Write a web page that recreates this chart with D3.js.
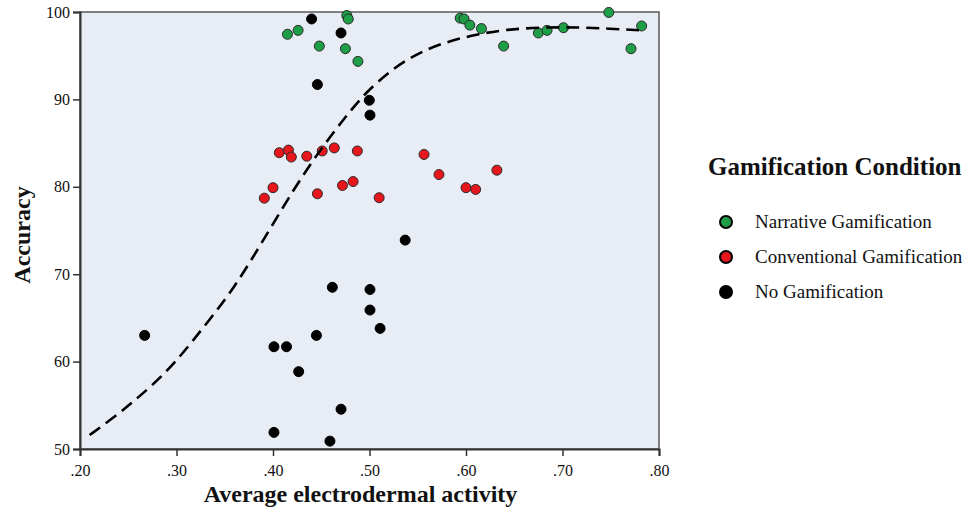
<!DOCTYPE html>
<html>
<head>
<meta charset="utf-8">
<script src="https://cdn.jsdelivr.net/npm/d3@7"></script>
<style>
  body { margin: 0; background: #fff; }
  text { font-family: "Liberation Serif", "Times New Roman", serif; fill: #111; }
</style>
</head>
<body>
<div id="chart"></div>
<script>
// Narrative gamification (green)
const narrativeX = [0.415, 0.426, 0.448, 0.4765, 0.478, 0.475, 0.488, 0.594, 0.598, 0.604, 0.616, 0.639, 0.675, 0.684, 0.701, 0.748, 0.782, 0.771];
const narrativeY = [97.45, 97.9, 96.1, 99.6, 99.2, 95.8, 94.35, 99.3, 99.2, 98.5, 98.1, 96.1, 97.6, 97.9, 98.2, 99.95, 98.4, 95.8];

// Conventional gamification (red)
const conventionalX = [0.391, 0.400, 0.4065, 0.416, 0.419, 0.435, 0.446, 0.451, 0.4635, 0.472, 0.483, 0.4874, 0.510, 0.5565, 0.572, 0.600, 0.610, 0.632];
const conventionalY = [78.7, 79.9, 83.9, 84.2, 83.4, 83.5, 79.2, 84.1, 84.45, 80.15, 80.6, 84.1, 78.75, 83.7, 81.4, 79.9, 79.7, 81.9];

// No gamification (black)
const noneX = [0.267, 0.401, 0.401, 0.414, 0.4266, 0.440, 0.445, 0.446, 0.459, 0.4615, 0.4705, 0.4705, 0.4998, 0.5005, 0.5005, 0.5005, 0.511, 0.537];
const noneY = [63.0, 61.7, 51.9, 61.7, 58.85, 99.2, 63.0, 91.7, 50.9, 68.5, 97.6, 54.55, 89.9, 88.2, 68.25, 65.9, 63.8, 73.9];

// fitted curve
const fitX = [0.21, 0.235, 0.255, 0.276, 0.297, 0.317, 0.338, 0.359, 0.378, 0.397, 0.421, 0.44, 0.459, 0.478, 0.497, 0.525, 0.552, 0.58, 0.611, 0.642, 0.68, 0.715, 0.749, 0.78];
const fitY = [51.6, 53.6, 55.4, 57.4, 59.7, 62.4, 65.3, 68.4, 71.7, 75.2, 79.6, 82.8, 85.7, 88.4, 90.9, 93.6, 95.4, 96.6, 97.45, 98.0, 98.25, 98.25, 98.1, 97.9];

const xTicks = [0.2, 0.3, 0.4, 0.5, 0.6, 0.7, 0.8];
const yTicks = [50, 60, 70, 80, 90, 100];

const groups = ["Narrative Gamification", "Conventional Gamification", "No Gamification"];
const groupColors = ["#1f9e48", "#e5171c", "#000000"];

const svgWidth = 969;
const svgHeight = 511;
const margin = { top: 12, right: 310, bottom: 62, left: 80 };
const width = svgWidth - margin.left - margin.right;
const height = svgHeight - margin.top - margin.bottom;

const svg = d3.select("#chart")
    .append("svg")
    .attr("width", svgWidth)
    .attr("height", svgHeight);

const g = svg.append("g")
    .attr("transform", `translate(${margin.left},${margin.top})`);

const xScale = d3.scaleLinear().domain([0.2, 0.8]).range([0, width]);
const yScale = d3.scaleLinear().domain([50, 100]).range([height, 0]);

// plot background + frame
g.append("rect")
    .attr("width", width)
    .attr("height", height)
    .style("fill", "#e8ecf5")
    .style("stroke", "#5a5a5a")
    .style("stroke-width", 1.5);

// points
const series = [
    { xs: noneX, ys: noneY, i: 2 },
    { xs: conventionalX, ys: conventionalY, i: 1 },
    { xs: narrativeX, ys: narrativeY, i: 0 },
];

series.forEach(s => {
    const pts = s.xs.map((x, k) => ({ x, y: s.ys[k] }));
    g.append("g").selectAll("circle")
        .data(pts)
        .join("circle")
        .attr("cx", d => xScale(d.x))
        .attr("cy", d => yScale(d.y))
        .attr("r", 5)
        .style("fill", groupColors[s.i])
        .style("stroke", s.i === 2 ? "#000" : "#2a2a2a")
        .style("stroke-width", 1);
});

// dashed fit line
const fit = fitX.map((x, k) => ({ x, y: fitY[k] }));
g.append("path")
    .datum(fit)
    .attr("d", d3.line()
        .x(d => xScale(d.x))
        .y(d => yScale(d.y))
        .curve(d3.curveBasis))
    .style("fill", "none")
    .style("stroke", "#000")
    .style("stroke-width", 2.6)
    .style("stroke-dasharray", "13,7");

// X axis
const xAxis = g.append("g")
    .attr("transform", `translate(0,${height})`)
    .call(d3.axisBottom(xScale)
        .tickValues(xTicks)
        .tickSize(7)
        .tickFormat(d => d3.format(".2f")(d).replace(/^0/, "")));

// Y axis
const yAxis = g.append("g")
    .call(d3.axisLeft(yScale)
        .tickValues(yTicks)
        .tickSize(7));

[xAxis, yAxis].forEach(ax => {
    ax.select(".domain").style("stroke", "#333").style("stroke-width", 2);
    ax.selectAll(".tick line").style("stroke", "#333").style("stroke-width", 1.5);
    ax.selectAll("text")
        .style("font-family", "'Liberation Serif', serif")
        .style("font-size", "16px")
        .style("fill", "#111");
});
xAxis.selectAll("text").attr("dy", "1.05em");
yAxis.selectAll("text").attr("x", -10);

// X axis label
g.append("text")
    .attr("x", width / 2 - 9)
    .attr("y", height + 53)
    .attr("text-anchor", "middle")
    .style("font-size", "24px")
    .style("font-weight", "bold")
    .text("Average electrodermal activity");

// Y axis label
g.append("text")
    .attr("transform", "rotate(-90)")
    .attr("x", -223)
    .attr("y", -50)
    .attr("text-anchor", "middle")
    .style("font-size", "24px")
    .style("font-weight", "bold")
    .text("Accuracy");

// Legend
const legend = svg.append("g").attr("transform", "translate(708,0)");

legend.append("text")
    .attr("x", 0)
    .attr("y", 175)
    .style("font-size", "25px")
    .style("font-weight", "bold")
    .text("Gamification Condition");

const items = legend.selectAll(".item")
    .data(groups)
    .join("g")
    .attr("class", "item")
    .attr("transform", (_d, i) => `translate(0,${222 + i * 35})`);

items.append("circle")
    .attr("cx", 18)
    .attr("cy", 0)
    .attr("r", 6)
    .style("fill", (_d, i) => groupColors[i])
    .style("stroke", "#000")
    .style("stroke-width", 2);

items.append("text")
    .attr("x", 47)
    .attr("y", 6)
    .style("font-size", "19px")
    .text(d => d);
</script>
</body>
</html>
